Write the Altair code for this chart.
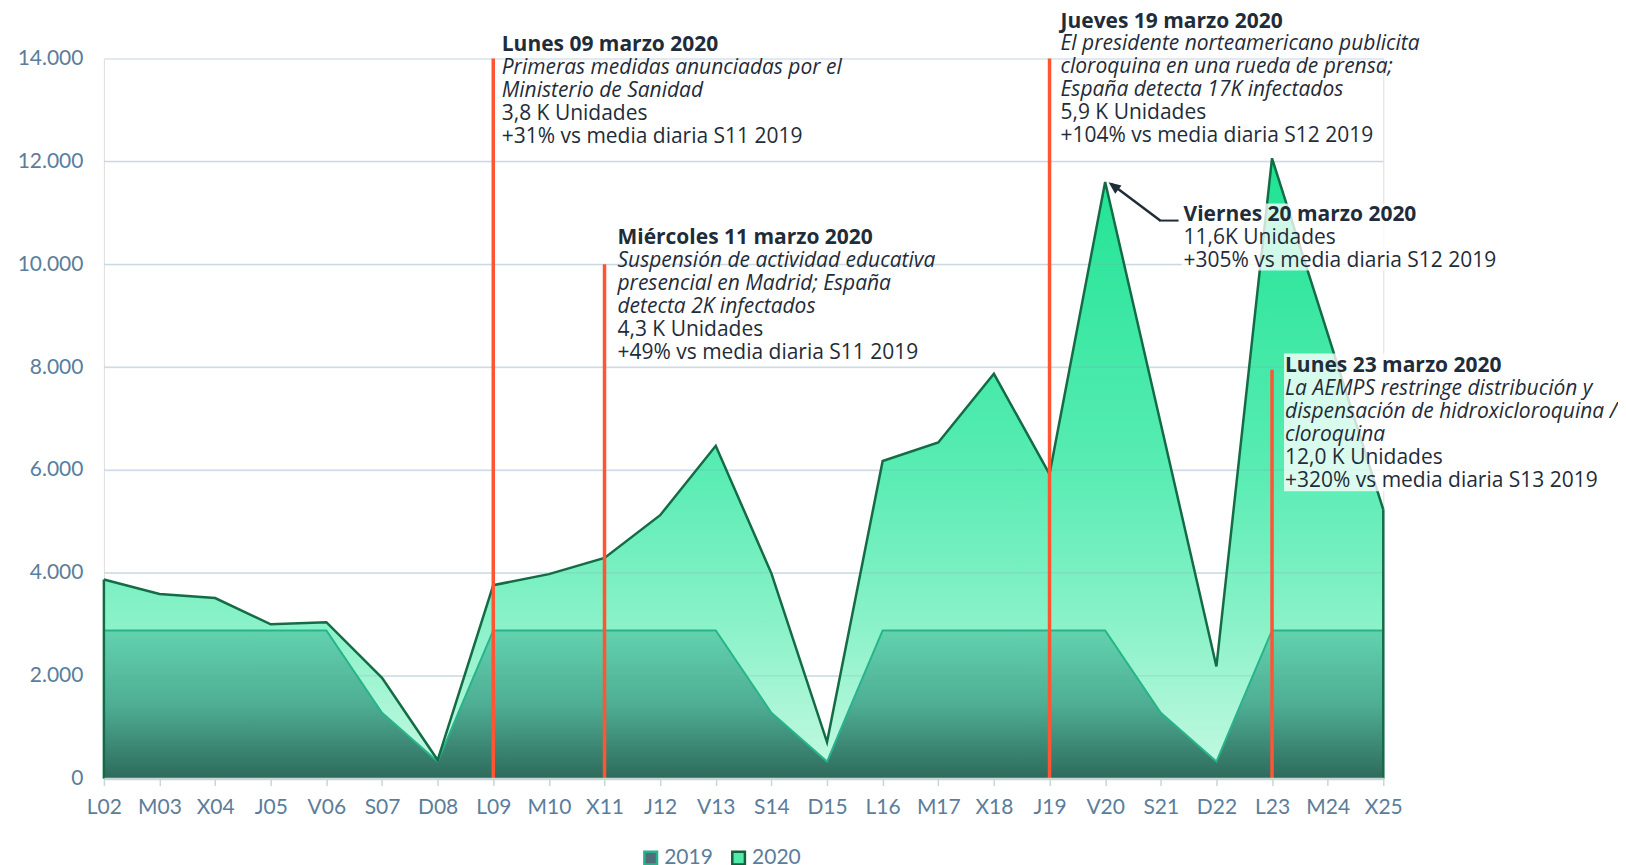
import altair as alt
import pandas as pd

# ---------------- data ----------------
days = ["L02", "M03", "X04", "J05", "V06", "S07", "D08", "L09", "M10", "X11", "J12", "V13",
        "S14", "D15", "L16", "M17", "X18", "J19", "V20", "S21", "D22", "L23", "M24", "X25"]
v2020 = [3870, 3590, 3510, 3000, 3040, 1960, 360, 3760, 3975, 4290, 5120, 6470,
         3990, 710, 6175, 6535, 7870, 5920, 11600, 6900, 2180, 12060, 8650, 5230]
v2019 = [2880, 2880, 2880, 2880, 2880, 1280, 330, 2880, 2880, 2880, 2880, 2880,
         1280, 330, 2880, 2880, 2880, 2880, 2880, 1280, 330, 2880, 2880, 2880]
series_names = ["2019", "2020"]
ytick_values = [0, 2000, 4000, 6000, 8000, 10000, 12000, 14000]
grid_overlay_values = [2000, 4000, 6000, 8000, 10000, 12000]

rule_days = ["L09", "X11", "J19", "L23"]
rule_tops = [14000, 10000, 14000, 7950]

ev_days = ["L09", "X11", "J19", "V20", "L23"]
ev_anchor = [14000, 10000, 14000, 11600, 7950]
ev_titles = ["Lunes 09 marzo 2020", "Miércoles 11 marzo 2020", "Jueves 19 marzo 2020",
             "Viernes 20 marzo 2020", "Lunes 23 marzo 2020"]
ev_desc = [
    ["Primeras medidas anunciadas por el", "Ministerio de Sanidad"],
    ["Suspensión de actividad educativa", "presencial en Madrid; España", "detecta 2K infectados"],
    ["El presidente norteamericano publicita", "cloroquina en una rueda de prensa;",
     "España detecta 17K infectados"],
    [],
    ["La AEMPS restringe distribución y", "dispensación de hidroxicloroquina /", "cloroquina"],
]
ev_stats = [
    ["3,8 K Unidades", "+31% vs media diaria S11 2019"],
    ["4,3 K Unidades", "+49% vs media diaria S11 2019"],
    ["5,9 K Unidades", "+104% vs media diaria S12 2019"],
    ["11,6K Unidades", "+305% vs media diaria S12 2019"],
    ["12,0 K Unidades", "+320% vs media diaria S13 2019"],
]

# ---------------- layout / style ----------------
ev_dx = [8.5, 13, 11, 78.5, 13]
ev_dy = [-7.2, -20.3, -31.0, 39.3, 2.7]
LH = 23
FS = 21
TXT = "#1f2c39"
AX = "#5b7d9b"
RED = "#ff5533"

# background boxes behind two annotation blocks: (day, anchor, xOff, x2Off, yOff, y2Off)
box_specs = [("V20", 11600, 76.5, 400.5, 21.7, 88.7),
             ("L23", 7950, 12, 334, -16.3, 121.7)]

df = pd.DataFrame({"day": days, "v2020": v2020, "v2019": v2019})

x_scale = alt.Scale(type="point", domain=days, padding=0)
y_scale = alt.Scale(domain=[0, 14000], nice=False, zero=True)


def X():
    return alt.X("day:O", scale=x_scale, title=None)


def Y(field):
    return alt.Y(f"{field}:Q", scale=y_scale, title=None)


g2020 = {"gradient": "linear", "x1": 0, "x2": 0, "y1": 0, "y2": 1,
         "stops": [{"offset": 0, "color": "#1fe393"},
                   {"offset": 0.5, "color": "#58ecb3"},
                   {"offset": 0.76, "color": "#8cf2c9"},
                   {"offset": 1, "color": "#c6f9e3"}]}
g2019 = {"gradient": "linear", "x1": 0, "x2": 0, "y1": 0, "y2": 1,
         "stops": [{"offset": 0, "color": "#62d2ae"},
                   {"offset": 0.5, "color": "#4eae93"},
                   {"offset": 1, "color": "#2e6a5c"}]}

# dummy layer for the legend
leg_df = pd.DataFrame({"serie": series_names, "day": ["L02", "L02"], "v": [0, 0]})
legend_def = alt.Legend(orient="none", legendX=537, legendY=790, direction="horizontal",
                        title=None, labelFont="Lato", labelFontSize=21, labelColor=AX,
                        symbolType="square", symbolSize=160, symbolStrokeWidth=2.5,
                        symbolOpacity=1, columnPadding=14, labelOffset=3)
legend_layer = alt.Chart(leg_df).mark_square(opacity=0, filled=True).encode(
    x=X(), y=Y("v"),
    fill=alt.Fill("serie:N", scale=alt.Scale(domain=series_names, range=["#4f6e79", "#52eaab"]),
                  legend=legend_def),
    stroke=alt.Stroke("serie:N", scale=alt.Scale(domain=series_names, range=["#2ab08a", "#14603f"]),
                      legend=legend_def),
)

x_axis = alt.Axis(labelAngle=0, labelAlign="center", labelBaseline="top", zindex=1, grid=False,
                  domainColor="#c6d8d5", domainWidth=2.5, tickColor="#c6d8d5", tickSize=7,
                  tickWidth=1.5, labelPadding=11, labelFont="Lato", labelFontSize=21,
                  labelColor=AX, orient="bottom")
y_axis = alt.Axis(values=ytick_values, domain=False, ticks=False, tickSize=0, labelPadding=21,
                  labelFont="Lato", labelFontSize=21, labelColor=AX, labelAlign="right",
                  labelBaseline="middle", gridColor="#dfe7f0", gridWidth=1.5, zindex=0,
                  orient="left",
                  labelExpr="replace(format(datum.value, ','), ',', '.')")

base = alt.Chart(df)
area2020 = base.mark_area(color=g2020).encode(
    x=alt.X("day:O", scale=x_scale, title=None, axis=x_axis),
    y=alt.Y("v2020:Q", scale=y_scale, title=None, axis=y_axis),
)
area2019 = base.mark_area(color=g2019).encode(x=X(), y=Y("v2019"))
line2019 = base.mark_line(color="#27b48a", strokeWidth=2).encode(x=X(), y=Y("v2019"))

grid_df = pd.DataFrame({"g": grid_overlay_values})
grid_overlay = alt.Chart(grid_df).mark_rule(color="#7fa5b5", opacity=0.2, strokeWidth=1.5).encode(
    y=Y("g"))

line2020 = base.mark_line(color="#146c46", strokeWidth=2.5).encode(x=X(), y=Y("v2020"))
edges = alt.Chart(df.iloc[[0, -1]].assign(zero=0)).mark_rule(color="#146c46", strokeWidth=2.5).encode(
    x=X(), y=Y("v2020"), y2=alt.Y2("zero"))

rules_df = pd.DataFrame({"day": rule_days, "top": rule_tops, "zero": [0] * len(rule_days)})
red_rules = alt.Chart(rules_df).mark_rule(color=RED, strokeWidth=3.5).encode(
    x=X(), y=Y("top"), y2=alt.Y2("zero"))

layers = [legend_layer, area2020, area2019, grid_overlay, line2019, line2020, edges, red_rules]

for (bday, banc, xo, x2o, yo, y2o) in box_specs:
    bd = alt.InlineData(values=[{"day": bday, "v": banc}])
    layers.append(alt.Chart(bd).mark_rect(color="white", opacity=0.78, xOffset=xo, x2Offset=x2o,
                                          yOffset=yo, y2Offset=y2o).encode(
        x=X(), x2=alt.X2("day"), y=Y("v"), y2=alt.Y2("v")))


def text_layer(day, anchor, lines, dx, dy, weight, style):
    d = alt.InlineData(values=[{"day": day, "v": anchor, "t": lines}])
    return alt.Chart(d).mark_text(align="left", baseline="alphabetic", dx=dx, dy=dy, lineHeight=LH,
                                  font="Open Sans", fontSize=FS, fontWeight=weight, fontStyle=style,
                                  color=TXT).encode(x=X(), y=Y("v"), text="t:N")


for i in range(len(ev_days)):
    d0, a0, dx, dy = ev_days[i], ev_anchor[i], ev_dx[i], ev_dy[i]
    layers.append(text_layer(d0, a0, [ev_titles[i]], dx, dy, "bold", "normal"))
    n = len(ev_desc[i])
    if n:
        layers.append(text_layer(d0, a0, ev_desc[i], dx, dy + LH, "normal", "italic"))
    layers.append(text_layer(d0, a0, ev_stats[i], dx, dy + LH * (1 + n), "normal", "normal"))

# arrow pointing to the V20 peak
arrow_d = alt.InlineData(values=[{"day": "V20", "v": 11600}])
ARW = "#1f2d3a"
arrow_diag = alt.Chart(arrow_d).mark_rule(color=ARW, strokeWidth=2.5, xOffset=6, yOffset=1.8,
                                          x2Offset=55.1, y2Offset=38.7).encode(
    x=X(), x2=alt.X2("day"), y=Y("v"), y2=alt.Y2("v"))
arrow_horiz = alt.Chart(arrow_d).mark_rule(color=ARW, strokeWidth=2, xOffset=54, yOffset=38.7,
                                           x2Offset=73.5, y2Offset=38.7).encode(
    x=X(), x2=alt.X2("day"), y=Y("v"), y2=alt.Y2("v"))
arrow_head = alt.Chart(arrow_d).mark_point(shape="M0,-1L0.75,0.75L-0.75,0.75Z", filled=True, color=ARW,
                                           opacity=1, size=196, angle=306.6, xOffset=9,
                                           yOffset=4.6).encode(x=X(), y=Y("v"))
layers += [arrow_diag, arrow_horiz, arrow_head]

chart = alt.layer(*layers).properties(
    width=1281, height=721,
    autosize=alt.AutoSizeParams(type="none"),
    padding={"left": 96, "top": 50, "right": 235, "bottom": 92},
).configure_view(stroke=None).configure(font="Open Sans")

chart.save("out.html", embed_options={"renderer": "svg", "actions": False})
